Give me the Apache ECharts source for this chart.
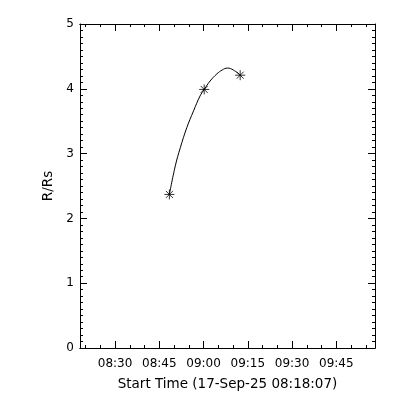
<!DOCTYPE html>
<html>
<head>
<meta charset="utf-8">
<script src="https://cdn.jsdelivr.net/npm/echarts@6/dist/echarts.min.js"></script>
<style>html,body{margin:0;padding:0;background:#fff}#c{width:400px;height:400px}</style>
</head>
<body>
<div id="c"></div>
<script>
// Minutes since start time 08:18:07
var startLabel = '08:18:07';
var xMinMinutes = 0;
var xMaxMinutes = 100;
var pointMinutes = [30.3, 42.1, 54.3];
var pointR = [2.37, 3.99, 4.21];
// fitted curve
var fitMinutes = [30.3, 32.3, 34.0, 36.2, 38.5, 40.7, 42.1, 44.1, 46.4, 48.2, 50.0, 52.0, 54.3];
var fitR = [2.37, 2.81, 3.09, 3.40, 3.66, 3.89, 3.99, 4.12, 4.23, 4.29, 4.32, 4.29, 4.21];
var majorTickLabels = ['08:30', '08:45', '09:00', '09:15', '09:30', '09:45'];
var minorTickLabels = ['08:20','08:25','08:35','08:40','08:50','08:55','09:05','09:10','09:20','09:25','09:35','09:40','09:50','09:55'];
var yTicks = [0, 1, 2, 3, 4, 5];
var xTitle = 'Start Time (17-Sep-25 08:18:07)';
var yTitle = 'R/Rs';

function toSec(s){var p=s.split(':').map(Number);return p[0]*3600+p[1]*60+(p[2]||0);}
var startSec = toSec(startLabel);
function labelToMin(s){return (toSec(s)-startSec)/60;}
var majorVals = majorTickLabels.map(labelToMin);
var minorVals = minorTickLabels.map(labelToMin);
function minToLabel(v){
  var best=null;
  majorTickLabels.forEach(function(l){ if(Math.abs(labelToMin(l)-v)<0.01) best=l; });
  return best||'';
}

var font = 'DejaVu Sans';
var lineStyle = {color:'#000', width:1};
function xAxisDef(pos, vals, len, showLabel){
  return {
    type:'value', position:pos, min:xMinMinutes, max:xMaxMinutes, gridIndex:0,
    axisLine:{show:true, onZero:false, lineStyle:lineStyle},
    axisTick:{show:true, inside:true, length:len, customValues:vals, lineStyle:lineStyle},
    axisLabel:{show:showLabel, customValues:vals, formatter:minToLabel, color:'#000', fontFamily:font, fontSize:12, margin:10},
    splitLine:{show:false},
    name: showLabel ? xTitle : '', nameLocation:'middle', nameGap:29,
    nameTextStyle:{color:'#000', fontFamily:font, fontSize:13.5}
  };
}
function yAxisDef(pos, showLabel){
  return {
    type:'value', position:pos, min:yTicks[0], max:yTicks[yTicks.length-1], interval:1,
    axisLine:{show:true, onZero:false, lineStyle:lineStyle},
    axisTick:{show:true, inside:true, length:7, lineStyle:lineStyle},
    minorTick:{show:true, splitNumber:10, length:3, lineStyle:lineStyle},
    axisLabel:{show:showLabel, color:'#000', fontFamily:font, fontSize:12, margin:6},
    splitLine:{show:false}, minorSplitLine:{show:false},
    name: showLabel ? yTitle : '', nameLocation:'middle', nameGap:21,
    nameTextStyle:{color:'#000', fontFamily:font, fontSize:13.5}
  };
}

var chart = echarts.init(document.getElementById('c'), null, {renderer:'canvas'});
chart.setOption({
  animation:false,
  backgroundColor:'#fff',
  grid:{left:80, right:25, top:24, bottom:52, containLabel:false},
  xAxis:[
    xAxisDef('bottom', majorVals, 7, true),
    xAxisDef('bottom', minorVals, 3, false),
    xAxisDef('top', majorVals, 7, false),
    xAxisDef('top', minorVals, 3, false)
  ],
  yAxis:[ yAxisDef('left', true), yAxisDef('right', false) ],
  series:[
    {type:'line', xAxisIndex:0, yAxisIndex:0, smooth:0.4, showSymbol:false, symbol:'none',
     lineStyle:{color:'#000', width:1},
     data: fitMinutes.map(function(m,i){return [m, fitR[i]];})},
    {type:'scatter', xAxisIndex:0, yAxisIndex:0,
     symbol:'path://M5,0L5,10M0,5L10,5M1.5,1.5L8.5,8.5M8.5,1.5L1.5,8.5', symbolSize:10,
     itemStyle:{color:'rgba(0,0,0,0)', borderColor:'#000', borderWidth:1},
     data: pointMinutes.map(function(m,i){return [m, pointR[i]];})}
  ]
});
</script>
</body>
</html>
